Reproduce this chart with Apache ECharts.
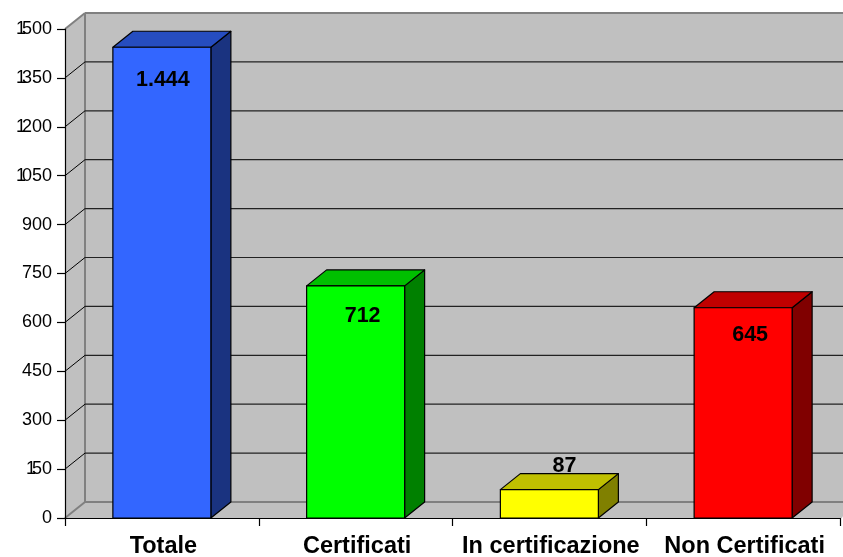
<!DOCTYPE html>
<html>
<head>
<meta charset="utf-8">
<style>html,body{margin:0;padding:0;background:#fff}#c{width:843px;height:557px}</style>
<script src="https://cdn.jsdelivr.net/npm/echarts@6/dist/echarts.min.js"></script>
</head>
<body>
<div id="c"></div>
<script>
const categories = ['Totale', 'Certificati', 'In certificazione', 'Non Certificati'];
const values = [1444, 712, 87, 645];
const valueLabels = ['1.444', '712', '87', '645'];
const gridValues = [150, 300, 450, 600, 750, 900, 1050, 1200, 1350];
const faceColors = ['#3366FF', '#00FF00', '#FFFF00', '#FF0000'];
const topColors = ['#264DC0', '#00C000', '#C0C000', '#C00000'];
const sideColors = ['#1A3380', '#008000', '#808000', '#800000'];
const labelShifts = [[1, 33], [7, 30], [15, -24], [7, 27]];

const DX = 20, DY = 16, BAR_W = 98;
const FONT = '"Liberation Sans", Arial, sans-serif';

const chart = echarts.init(document.getElementById('c'), null, {renderer: 'canvas'});

function wallItem(params, api) {
  const o = api.coord([0, 0]), t = api.coord([0, 1500]);
  const x0 = params.coordSys.x, y0 = o[1], y1 = t[1];
  const xr = params.coordSys.x + params.coordSys.width, xe = 843;
  const edge = {stroke: '#808080', lineWidth: 2, fill: null};
  const poly = pts => ({type: 'polygon', shape: {points: pts}, style: {fill: '#C0C0C0'}});
  const line = (a, b, c, d, s) => ({type: 'line', shape: {x1: a, y1: b, x2: c, y2: d}, style: s});
  return {type: 'group', children: [
    poly([[x0, y1], [x0 + DX, y1 - DY], [xe, y1 - DY], [xe, y0 - DY], [x0 + DX, y0 - DY], [x0, y0]]),
    poly([[x0, y0], [x0 + DX, y0 - DY], [xe, y0 - DY], [xe, y0 - 2], [xr + 2, y0]]),
    line(x0, y1, x0 + DX, y1 - DY, edge),
    line(x0 + DX, y1 - DY, xe, y1 - DY, edge),
    line(x0 + DX, y1 - DY, x0 + DX, y0 - DY, edge),
    line(x0, y0, x0 + DX, y0 - DY, edge),
    line(x0 + DX, y0 - DY, xe, y0 - DY, edge)
  ]};
}

function gridItem(params, api) {
  const y = api.coord([0, api.value(0)])[1];
  const x0 = params.coordSys.x;
  const diag = {stroke: '#000', lineWidth: 1};
  const flat = {stroke: '#222', lineWidth: 1.2};
  return {type: 'group', children: [
    {type: 'line', shape: {x1: x0, y1: y, x2: x0 + DX, y2: y - DY}, style: diag},
    {type: 'line', shape: {x1: x0 + DX, y1: y - DY, x2: 843, y2: y - DY}, style: flat}
  ]};
}

function barItem(params, api) {
  const i = api.value(0), v = api.value(1);
  const c = api.coord([i, v]), b = api.coord([i, 0]);
  const l = c[0] - BAR_W / 2, r = c[0] + BAR_W / 2, t = c[1], y0 = b[1];
  const s = fill => ({fill, stroke: '#000', lineWidth: 1.2, lineJoin: 'round'});
  const shift = labelShifts[i];
  return {type: 'group', children: [
    {type: 'polygon', shape: {points: [[r, t], [r + DX, t - DY], [r + DX, y0 - DY], [r, y0]]}, style: s(sideColors[i])},
    {type: 'polygon', shape: {points: [[l, t], [l + DX, t - DY], [r + DX, t - DY], [r, t]]}, style: s(topColors[i])},
    {type: 'rect', shape: {x: l, y: t, width: BAR_W, height: y0 - t}, style: s(faceColors[i])},
    {type: 'text', style: {
      text: valueLabels[i], x: c[0] + shift[0], y: t + shift[1],
      align: 'center', verticalAlign: 'middle', fill: '#000',
      font: 'bold 21.5px ' + FONT
    }}
  ]};
}

chart.setOption({
  animation: false,
  backgroundColor: '#fff',
  grid: {left: 65, top: 29, width: 775, height: 489, containLabel: false, outerBoundsMode: 'none'},
  xAxis: {
    type: 'category', data: categories, z: 10,
    axisLine: {lineStyle: {color: '#000', width: 1.2}},
    axisTick: {show: true, alignWithLabel: false, length: 8, lineStyle: {color: '#000', width: 1.2}},
    axisLabel: {interval: 0, color: '#000', fontFamily: FONT, fontWeight: 'bold', fontSize: 23.5, margin: 17, padding: [0, 0, 0, 3]}
  },
  yAxis: {
    type: 'value', min: 0, max: 1500, interval: 150, z: 10,
    axisLine: {show: true, lineStyle: {color: '#000', width: 1.2}},
    axisTick: {show: true, length: 8, lineStyle: {color: '#000', width: 1.2}},
    axisLabel: {
      color: '#000', fontFamily: FONT, fontSize: 18, margin: 13,
      formatter: v => {
        const t = String(v);
        return t.length > 2 && t[0] === '1' ? '{one|1}{num|' + t.slice(1) + '}' : t;
      },
      rich: {
        one: {padding: [0, -4, 0, 0], fontSize: 18, fontFamily: FONT, color: '#000'},
        num: {fontSize: 18, fontFamily: FONT, color: '#000'}
      }
    },
    splitLine: {show: false}
  },
  series: [
    {type: 'custom', coordinateSystem: 'cartesian2d', clip: false, z: 1, silent: true, data: [[0]], renderItem: wallItem},
    {type: 'custom', coordinateSystem: 'cartesian2d', clip: false, z: 2, silent: true, data: gridValues.map(v => [v]), renderItem: gridItem, encode: {y: 0}},
    {type: 'custom', coordinateSystem: 'cartesian2d', clip: false, z: 3, silent: true, data: values.map((v, i) => [i, v]), renderItem: barItem, encode: {x: 0, y: 1}}
  ]
});
</script>
</body>
</html>
